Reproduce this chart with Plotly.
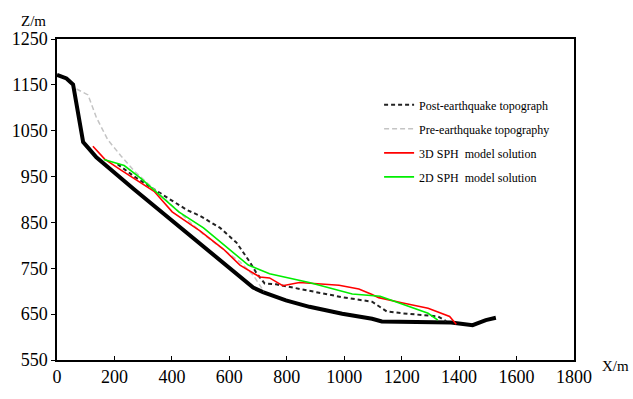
import plotly.graph_objects as go

# Sliding surface (thick black)
bed_x = [0, 33, 56, 91, 108, 137, 269, 400, 510, 648, 683, 717, 797, 879, 993, 1097, 1131, 1372, 1447, 1493, 1528]
bed_y = [1172, 1164, 1151, 1025, 1013, 992, 922, 855, 798, 726, 708, 698, 680, 666, 651, 640, 634, 632, 626, 637, 642]

# Post-earthquake topograph (black dashed)
post_x = [211, 269, 384, 453, 499, 568, 625, 671, 694, 723, 763, 878, 993, 1097, 1148, 1200, 1292, 1326, 1355]
post_y = [977, 950, 904, 877, 864, 838, 806, 764, 740, 717, 715, 701, 687, 677, 656, 652, 647, 645, 635]

# Pre-earthquake topography (grey dashed)
pre_x = [68, 108, 137, 177, 223, 269, 400, 510, 637, 683, 720]
pre_y = [1141, 1128, 1079, 1030, 995, 962, 887, 824, 764, 735, 700]

# 3D SPH model solution (red)
sph3_x = [125, 166, 223, 338, 401, 499, 579, 637, 706, 740, 786, 844, 982, 1051, 1097, 1120, 1200, 1292, 1367, 1390]
sph3_y = [1016, 988, 964, 918, 873, 831, 792, 757, 731, 729, 712, 719, 713, 705, 693, 686, 675, 663, 645, 628]

# 2D SPH model solution (green)
sph2_x = [163, 234, 292, 424, 510, 614, 666, 706, 740, 878, 1028, 1125, 1177, 1292, 1326]
sph2_y = [987, 974, 946, 873, 838, 785, 757, 747, 738, 719, 694, 689, 677, 652, 637]

x_ticks = [0, 200, 400, 600, 800, 1000, 1200, 1400, 1600, 1800]
y_ticks = [550, 650, 750, 850, 950, 1050, 1150, 1250]

SERIF = "Liberation Serif"

fig = go.Figure()
fig.add_trace(go.Scatter(x=bed_x, y=bed_y, mode="lines", showlegend=False,
                         line=dict(color="black", width=4)))
fig.add_trace(go.Scatter(x=post_x, y=post_y, mode="lines", name="Post-earthquake topograph",
                         legendgroup="a", line=dict(color="#222222", width=2, dash="4px,3px")))
fig.add_trace(go.Scatter(x=pre_x, y=pre_y, mode="lines", name="Pre-earthquake topography",
                         legendgroup="b", line=dict(color="#c4c4c4", width=1.5, dash="5px,3px")))
fig.add_trace(go.Scatter(x=sph3_x, y=sph3_y, mode="lines", name="3D SPH  model solution",
                         legendgroup="c", line=dict(color="#ff0000", width=1.6)))
fig.add_trace(go.Scatter(x=sph2_x, y=sph2_y, mode="lines", name="2D SPH  model solution",
                         legendgroup="d", line=dict(color="#00ee00", width=1.6)))

fig.update_layout(
    width=633, height=399,
    margin=dict(l=52, r=59, t=39, b=27),
    paper_bgcolor="white", plot_bgcolor="white",
    font=dict(family=SERIF, color="black"),
    legend=dict(x=0.623, y=0.84, xanchor="left", yanchor="top",
                font=dict(family=SERIF, size=12, color="black"),
                bgcolor="rgba(0,0,0,0)", tracegroupgap=5, traceorder="grouped",
                itemwidth=30),
    xaxis=dict(range=[0, 1800], tickvals=x_ticks, ticktext=[str(v) for v in x_ticks],
               showgrid=False, zeroline=False, showline=True, linecolor="black", linewidth=1.5,
               mirror=True, ticks="inside", ticklen=4, tickcolor="black",
               tickfont=dict(family=SERIF, size=18, color="black")),
    yaxis=dict(range=[550, 1250], tickvals=y_ticks, ticktext=[str(v) for v in y_ticks],
               showgrid=False, zeroline=False, showline=True, linecolor="black", linewidth=1.5,
               mirror=True, ticks="outside", ticklen=4, tickcolor="black",
               tickfont=dict(family=SERIF, size=18, color="black")),
    annotations=[
        dict(text="Z/m", xref="paper", yref="paper", x=-0.045, y=1.0, xanchor="center",
             yanchor="bottom", yshift=8, showarrow=False,
             font=dict(family=SERIF, size=15, color="black")),
        dict(text="X/m", xref="paper", yref="paper", x=1.0, y=0, xanchor="left",
             yanchor="middle", xshift=26, yshift=-6, showarrow=False,
             font=dict(family=SERIF, size=15, color="black")),
    ],
)

fig.write_html("out.html")
